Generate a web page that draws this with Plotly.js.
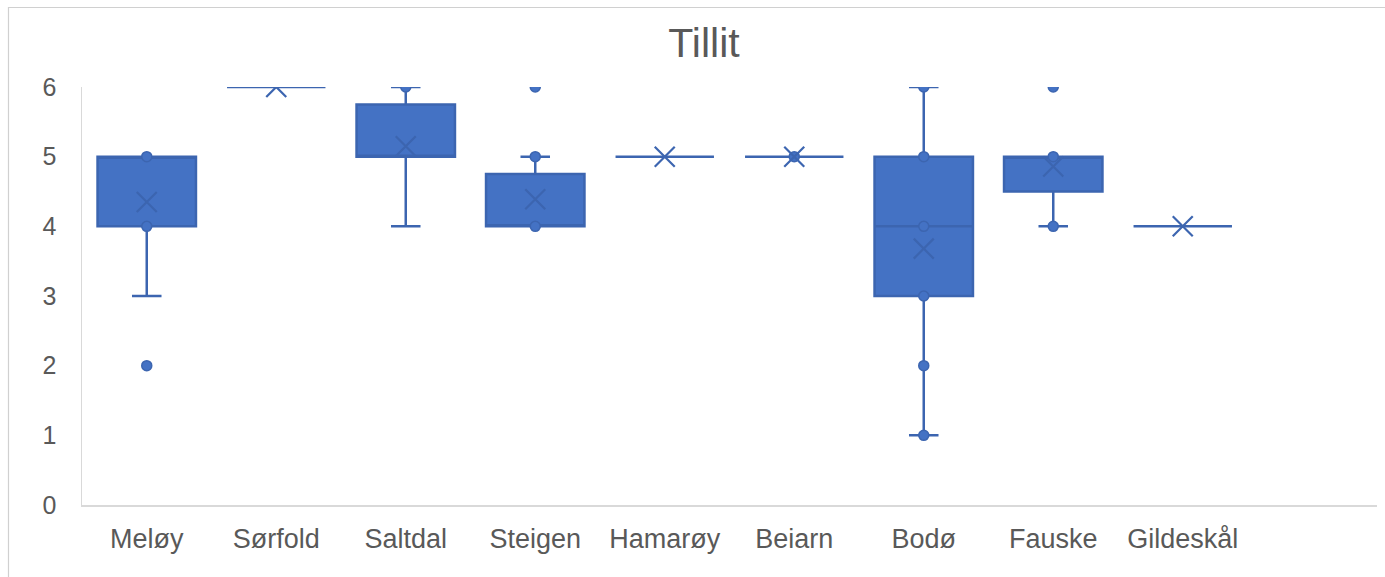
<!DOCTYPE html>
<html>
<head>
<meta charset="utf-8">
<script src="https://cdn.plot.ly/plotly-3.0.1.min.js"></script>
<style>
  html, body { margin: 0; padding: 0; background: #ffffff; }
  #chart { width: 1385px; height: 577px; }
</style>
</head>
<body>
<div id="chart"></div>
<script>
// Categories (municipalities)
const categories = ["Meløy", "Sørfold", "Saltdal", "Steigen", "Hamarøy", "Beiarn", "Bodø", "Fauske", "Gildeskål"];

// Box statistics
const q1Values     = [4,   6, 5,    4,    5, 5, 3,    4.5,  4];
const medianValues = [5,   6, 5,    4,    5, 5, 4,    5,    4];
const q3Values     = [5,   6, 5.75, 4.75, 5, 5, 5,    5,    4];
const lowerWhisker = [3,   6, 4,    4,    5, 5, 1,    4,    4];
const upperWhisker = [5,   6, 6,    5,    5, 5, 6,    5,    4];
const meanValues   = [4.35, 6, 5.15, 4.39, 5, 5, 3.68, 4.86, 4];

// Individual points shown (inner points + outliers)
const pointCategories = ["Meløy", "Meløy", "Meløy",
                         "Saltdal",
                         "Steigen", "Steigen", "Steigen",
                         "Beiarn",
                         "Bodø", "Bodø", "Bodø", "Bodø", "Bodø", "Bodø",
                         "Fauske", "Fauske", "Fauske"];
const pointValues = [5, 4, 2,
                     6,
                     6, 5, 4,
                     5,
                     6, 5, 4, 3, 2, 1,
                     6, 5, 4];

const yTicks = [0, 1, 2, 3, 4, 5, 6];

const FILL = '#4472C4';
const EDGE = '#3C65B0';
const TEXT = '#595959';
const FONT = 'Liberation Sans, Arial, sans-serif';

const boxTrace = {
  type: 'box',
  x: categories,
  q1: q1Values,
  median: medianValues,
  q3: q3Values,
  lowerfence: lowerWhisker,
  upperfence: upperWhisker,
  fillcolor: FILL,
  line: { color: EDGE, width: 2.5 },
  width: 0.76,
  whiskerwidth: 0.3,
  boxpoints: false,
  hoverinfo: 'skip',
  showlegend: false
};

const pointTrace = {
  type: 'scatter',
  mode: 'markers',
  x: pointCategories,
  y: pointValues,
  marker: { symbol: 'circle', size: 10, color: FILL, line: { color: EDGE, width: 1.5 } },
  hoverinfo: 'skip',
  showlegend: false
};

const meanTrace = {
  type: 'scatter',
  mode: 'markers',
  x: categories,
  y: meanValues,
  marker: { symbol: 'x-thin-open', size: 20, color: EDGE, line: { color: EDGE, width: 2.2 } },
  hoverinfo: 'skip',
  showlegend: false
};

const L = 82, R = 8, T = 87, B = 72, W = 1385, H = 577;
const pw = W - L - R, ph = H - T - B;

const layout = {
  width: W,
  height: H,
  margin: { l: L, r: R, t: T, b: B, pad: 0 },
  paper_bgcolor: '#ffffff',
  plot_bgcolor: '#ffffff',
  font: { family: FONT, color: TEXT },
  title: {
    text: 'Tillit',
    font: { family: FONT, size: 41, color: TEXT },
    xref: 'container', x: 704 / W, xanchor: 'center',
    yref: 'container', y: 1 - 43 / H, yanchor: 'middle'
  },
  xaxis: {
    type: 'category',
    categoryorder: 'array',
    categoryarray: categories,
    range: [-0.5, 9.5],
    showgrid: false,
    zeroline: false,
    showline: true,
    linecolor: '#D9D9D9',
    linewidth: 1.5,
    ticks: '',
    ticklabelstandoff: 9,
    tickfont: { family: FONT, size: 27, color: TEXT },
    fixedrange: true
  },
  yaxis: {
    range: [0, 6],
    tickvals: yTicks,
    ticktext: yTicks.map(String),
    showgrid: false,
    zeroline: false,
    showline: true,
    linecolor: '#D9D9D9',
    linewidth: 1.5,
    ticks: '',
    ticklabelstandoff: 19,
    tickfont: { family: FONT, size: 25, color: TEXT },
    fixedrange: true
  },
  shapes: [
    {
      type: 'path',
      xref: 'paper', yref: 'paper',
      path: 'M ' + ((8.5 - L) / pw) + ' -0.5 L ' + ((8.5 - L) / pw) + ' ' + ((H - B - 7.5) / ph) + ' L 1.2 ' + ((H - B - 7.5) / ph),
      line: { color: '#D0D0D0', width: 1.2 },
      layer: 'above'
    }
  ]
};

Plotly.newPlot('chart', [boxTrace, pointTrace, meanTrace], layout, { displayModeBar: false, staticPlot: true });
</script>
</body>
</html>
